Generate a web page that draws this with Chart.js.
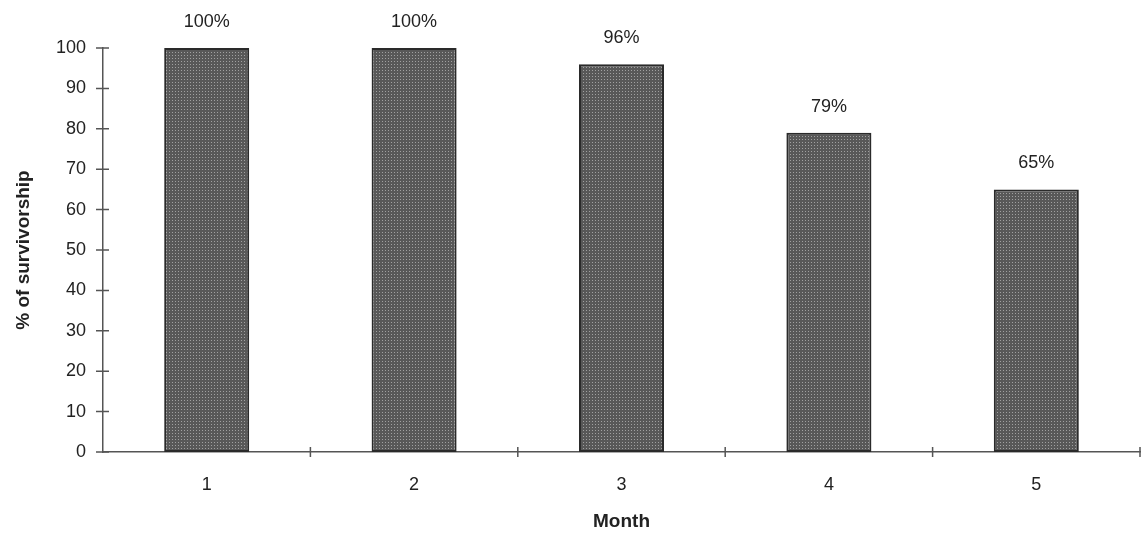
<!DOCTYPE html>
<html>
<head>
<meta charset="utf-8">
<script src="https://cdn.jsdelivr.net/npm/chart.js@4.4.0/dist/chart.umd.min.js"></script>
<style>
  html, body { margin: 0; padding: 0; background: #fff; }
  #wrap { width: 1144px; height: 536px; }
</style>
</head>
<body>
<div id="wrap"><canvas id="survChart"></canvas></div>
<script>
// data
let months = ['1', '2', '3', '4', '5'];
let survivorship = [100, 100, 96, 79, 65];
let yTicks = [0, 10, 20, 30, 40, 50, 60, 70, 80, 90, 100];

// dotted grey fill like the scanned bars
function makePattern() {
    let c = document.createElement('canvas');
    c.width = 3;
    c.height = 3;
    let p = c.getContext('2d');
    p.fillStyle = '#585858';
    p.fillRect(0, 0, 3, 3);
    p.fillStyle = '#a0a0a0';
    p.fillRect(1, 1, 1, 1);
    return p.createPattern(c, 'repeat');
}

// tick marks that cross the axis lines
let crossTicks = {
    id: 'crossTicks',
    afterDraw: function (chart) {
        let ctx = chart.ctx;
        let x = chart.scales.x;
        let y = chart.scales.y;
        ctx.save();
        ctx.strokeStyle = '#555';
        ctx.lineWidth = 1.5;
        ctx.beginPath();
        for (let i = 0; i < yTicks.length; i++) {
            let py = y.getPixelForValue(yTicks[i]);
            ctx.moveTo(x.left - 7, py);
            ctx.lineTo(x.left + 6, py);
        }
        let step = x.width / months.length;
        for (let i = 1; i <= months.length; i++) {
            let px = x.left + step * i;
            ctx.moveTo(px, y.bottom - 5);
            ctx.lineTo(px, y.bottom + 5);
        }
        ctx.stroke();
        ctx.restore();
    }
};

// "100%" style labels above each bar
let barLabels = {
    id: 'barLabels',
    afterDatasetsDraw: function (chart) {
        let ctx = chart.ctx;
        let bars = chart.getDatasetMeta(0).data;
        ctx.save();
        ctx.fillStyle = '#222';
        ctx.font = '18px "Liberation Sans", Arial, sans-serif';
        ctx.textAlign = 'center';
        ctx.textBaseline = 'middle';
        for (let i = 0; i < bars.length; i++) {
            ctx.fillText(survivorship[i] + '%', bars[i].x, bars[i].y - 26);
        }
        ctx.restore();
    }
};

Chart.defaults.font.family = '"Liberation Sans", Arial, sans-serif';
Chart.defaults.color = '#222';

let ctx = document.getElementById('survChart').getContext('2d');
let chart = new Chart(ctx, {
    type: 'bar',
    data: {
        labels: months,
        datasets: [{
            data: survivorship,
            backgroundColor: makePattern(),
            borderColor: '#2a2a2a',
            borderWidth: 2,
            borderSkipped: false,
            categoryPercentage: 1,
            barPercentage: 0.41
        }]
    },
    options: {
        responsive: true,
        maintainAspectRatio: false,
        animation: false,
        layout: { padding: { top: 48, right: 4, left: 0, bottom: 0 } },
        plugins: {
            legend: { display: false },
            tooltip: { enabled: false }
        },
        scales: {
            x: {
                grid: { display: false, drawTicks: false },
                border: { display: true, color: '#555', width: 1.5 },
                ticks: { font: { size: 18 }, padding: 22, color: '#222' },
                title: {
                    display: true,
                    text: 'Month',
                    font: { size: 19, weight: 'bold' },
                    color: '#222',
                    padding: { top: 0, bottom: 3 }
                },
                afterFit: function (scale) { scale.height = 84; }
            },
            y: {
                min: 0,
                max: 100,
                afterBuildTicks: function (scale) {
                    scale.ticks = yTicks.map(function (v) { return { value: v }; });
                },
                grid: { display: false, drawTicks: false },
                border: { display: true, color: '#555', width: 1.5 },
                ticks: { font: { size: 18 }, padding: 17, color: '#222' },
                title: {
                    display: true,
                    text: '% of survivorship',
                    font: { size: 19, weight: 'bold' },
                    color: '#222',
                    padding: { top: 12, bottom: 0 }
                },
                afterFit: function (scale) { scale.width = 103; }
            }
        }
    },
    plugins: [crossTicks, barLabels]
});
</script>
</body>
</html>
